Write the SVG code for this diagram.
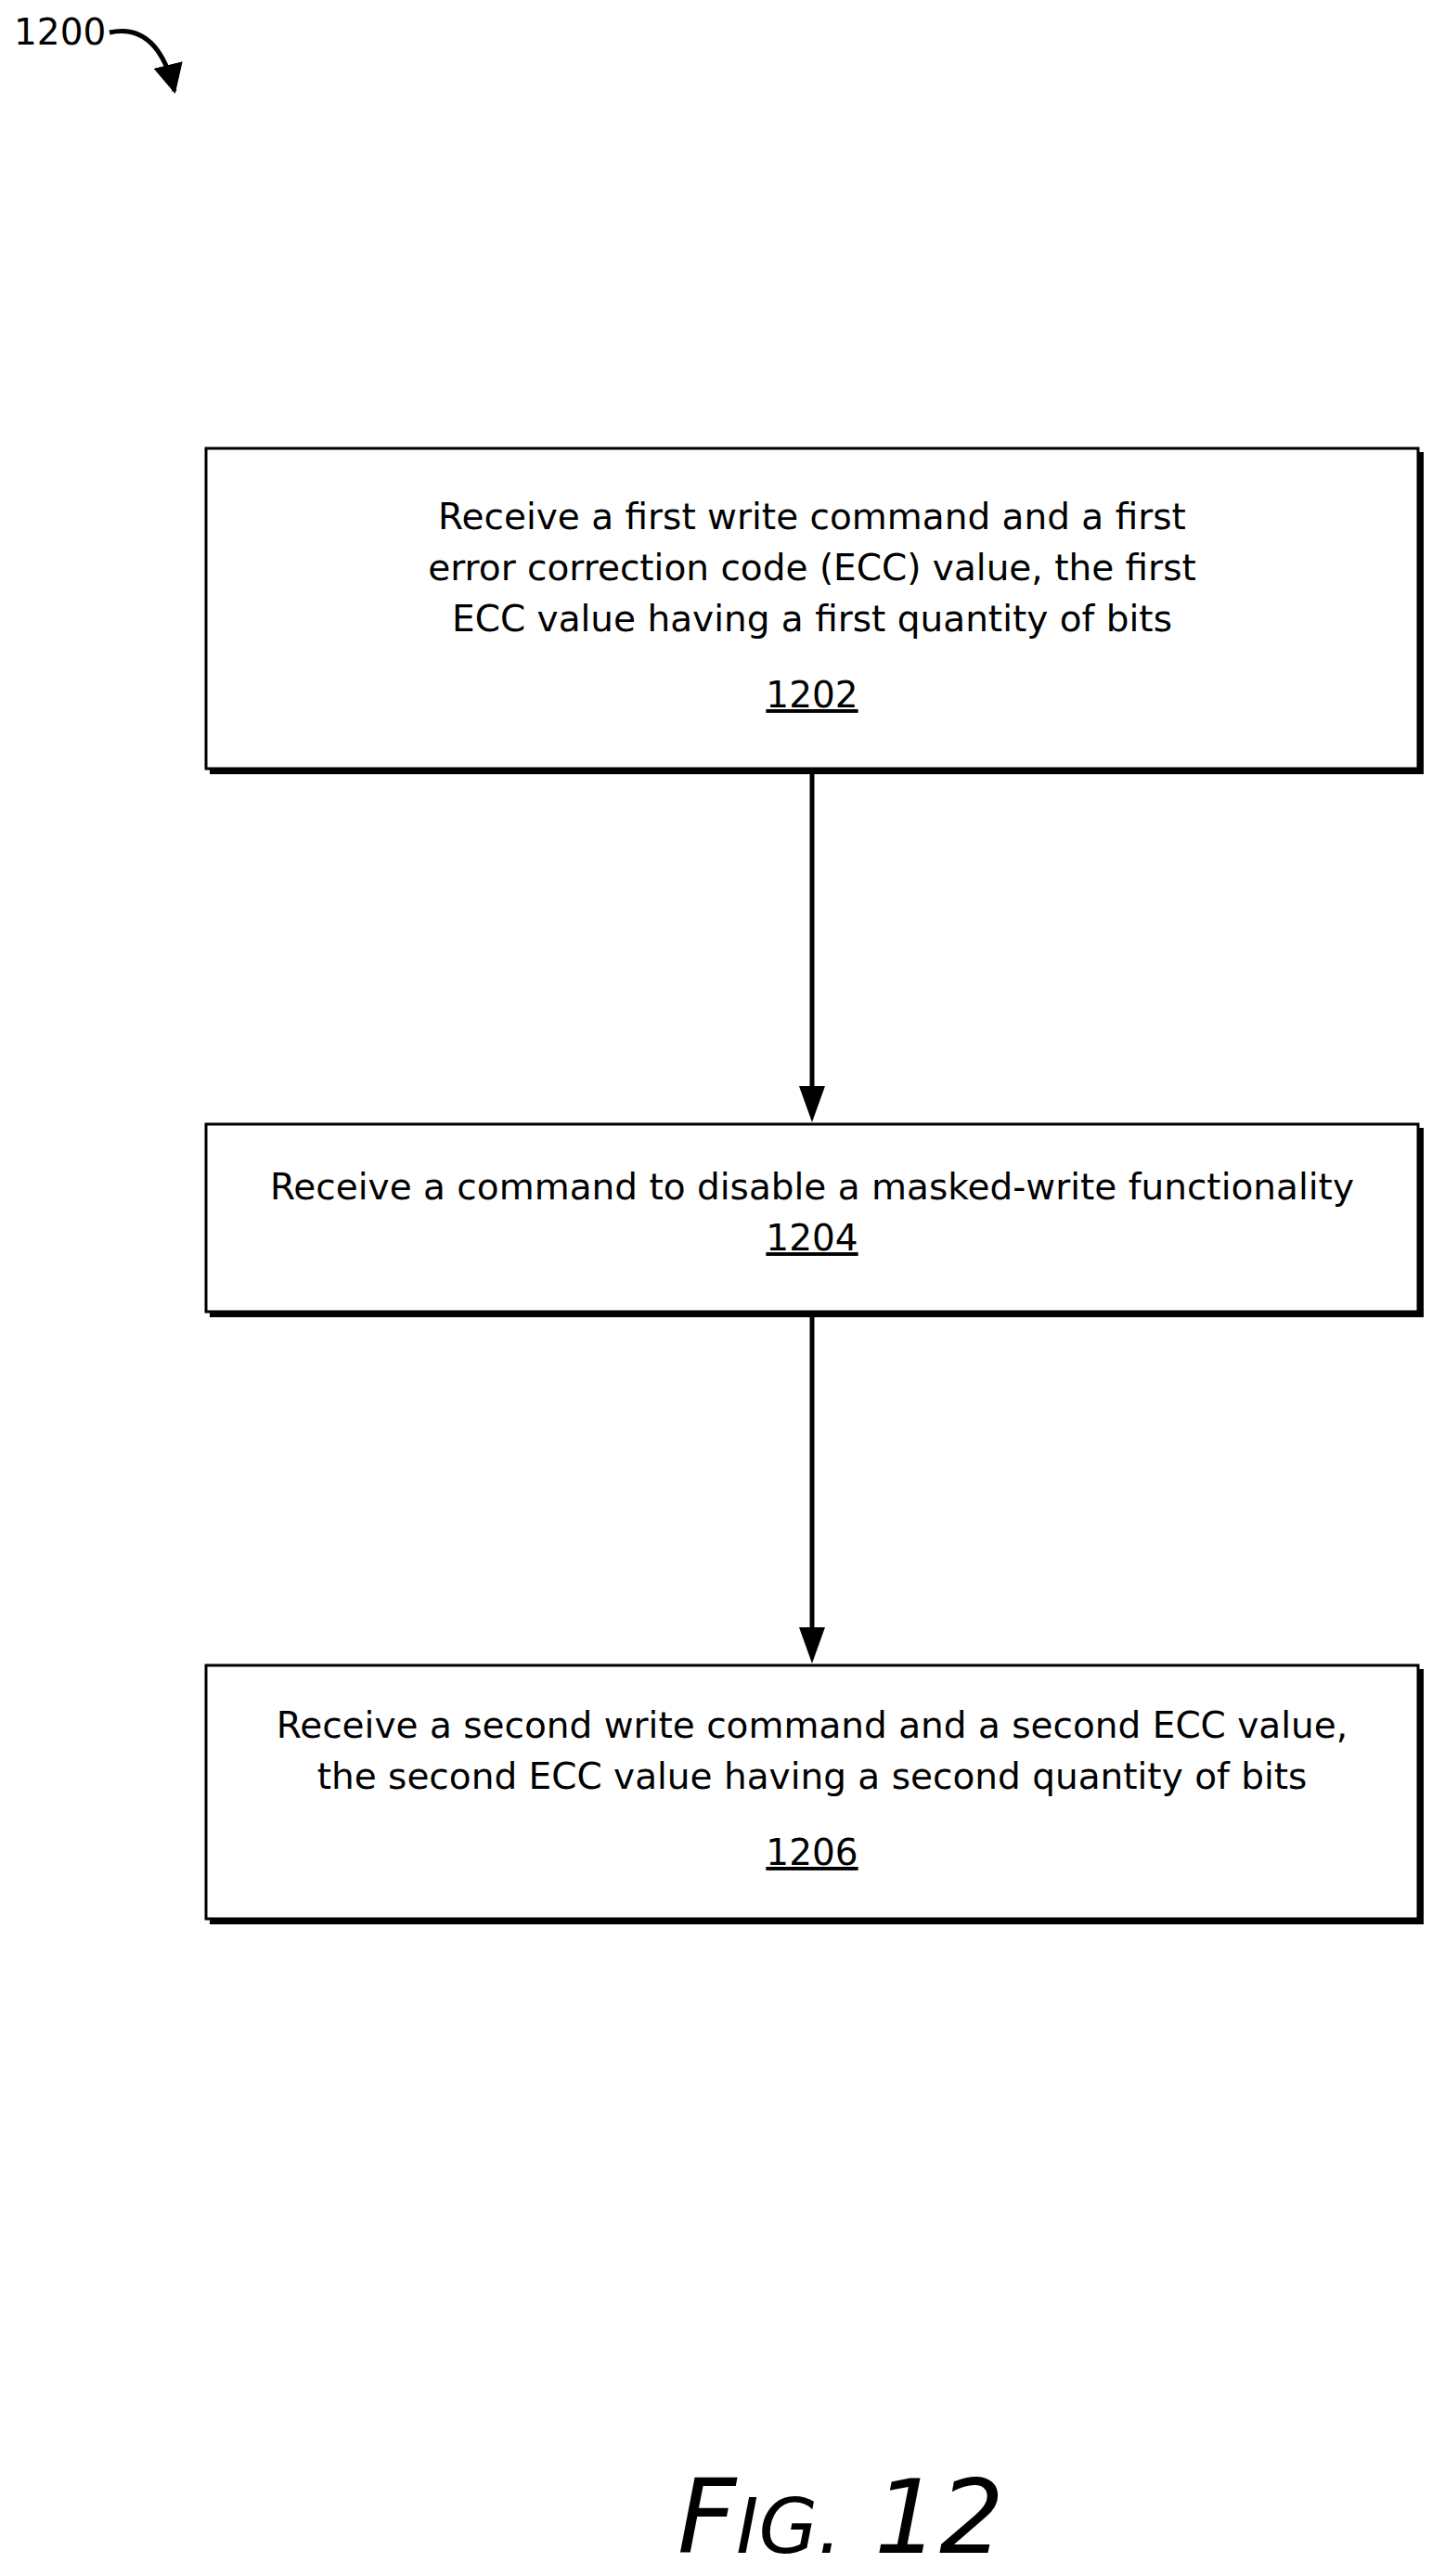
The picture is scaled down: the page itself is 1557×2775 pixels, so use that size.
<svg xmlns="http://www.w3.org/2000/svg" width="1557" height="2775" viewBox="0 0 1557 2775">
<style>
.box{fill:#fff;stroke:#000;stroke-width:3}
.sh{fill:#000}
.t{font-family:"DejaVu Sans",Verdana,sans-serif;font-size:39px;text-anchor:middle;fill:#000}
.u{text-decoration:underline}
.c{stroke:#000;stroke-width:5;fill:none}
</style>
<defs>
<marker id="big" viewBox="0 0 10 10" refX="9" refY="5" markerWidth="32" markerHeight="32" orient="auto" markerUnits="userSpaceOnUse"><path d="M0,0 L10,5 L0,10 z"/></marker>
</defs>
<g id="label1200">
<text x="15" y="48" font-family="DejaVu Sans,Verdana,sans-serif" font-size="39">1200</text>
<path class="c" d="M118,35 C150,28 175,45 188,98" stroke-width="3" marker-end="url(#big)"/>
</g>
<g id="n1202">
<rect class="sh" x="226" y="487" width="1308" height="347"/>
<rect class="box" x="222" y="483" width="1306" height="345"/>
<text class="t" x="875" y="570">Receive a first write command and a first</text>
<text class="t" x="875" y="625">error correction code (ECC) value, the first</text>
<text class="t" x="875" y="680">ECC value having a first quantity of bits</text>
<text class="t u" x="875" y="762">1202</text>
</g>
<g id="n1204">
<rect class="sh" x="226" y="1215" width="1308" height="204"/>
<rect class="box" x="222" y="1211" width="1306" height="202"/>
<text class="t" x="875" y="1292">Receive a command to disable a masked-write functionality</text>
<text class="t u" x="875" y="1347">1204</text>
</g>
<g id="n1206">
<rect class="sh" x="226" y="1798" width="1308" height="275"/>
<rect class="box" x="222" y="1794" width="1306" height="273"/>
<text class="t" x="875" y="1872">Receive a second write command and a second ECC value,</text>
<text class="t" x="875" y="1927">the second ECC value having a second quantity of bits</text>
<text class="t u" x="875" y="2009">1206</text>
</g>
<g id="connectors">
<line class="c" x1="875" y1="834" x2="875" y2="1176"/>
<path d="M861,1170 L889,1170 L875,1209 z"/>
<line class="c" x1="875" y1="1419" x2="875" y2="1759"/>
<path d="M861,1753 L889,1753 L875,1792 z"/>
</g>
<g id="fig">
<text x="730" y="2750" font-family="DejaVu Sans,Verdana,sans-serif" font-style="italic" font-size="110">F<tspan font-size="82">IG.</tspan> 12</text>
</g>
</svg>
